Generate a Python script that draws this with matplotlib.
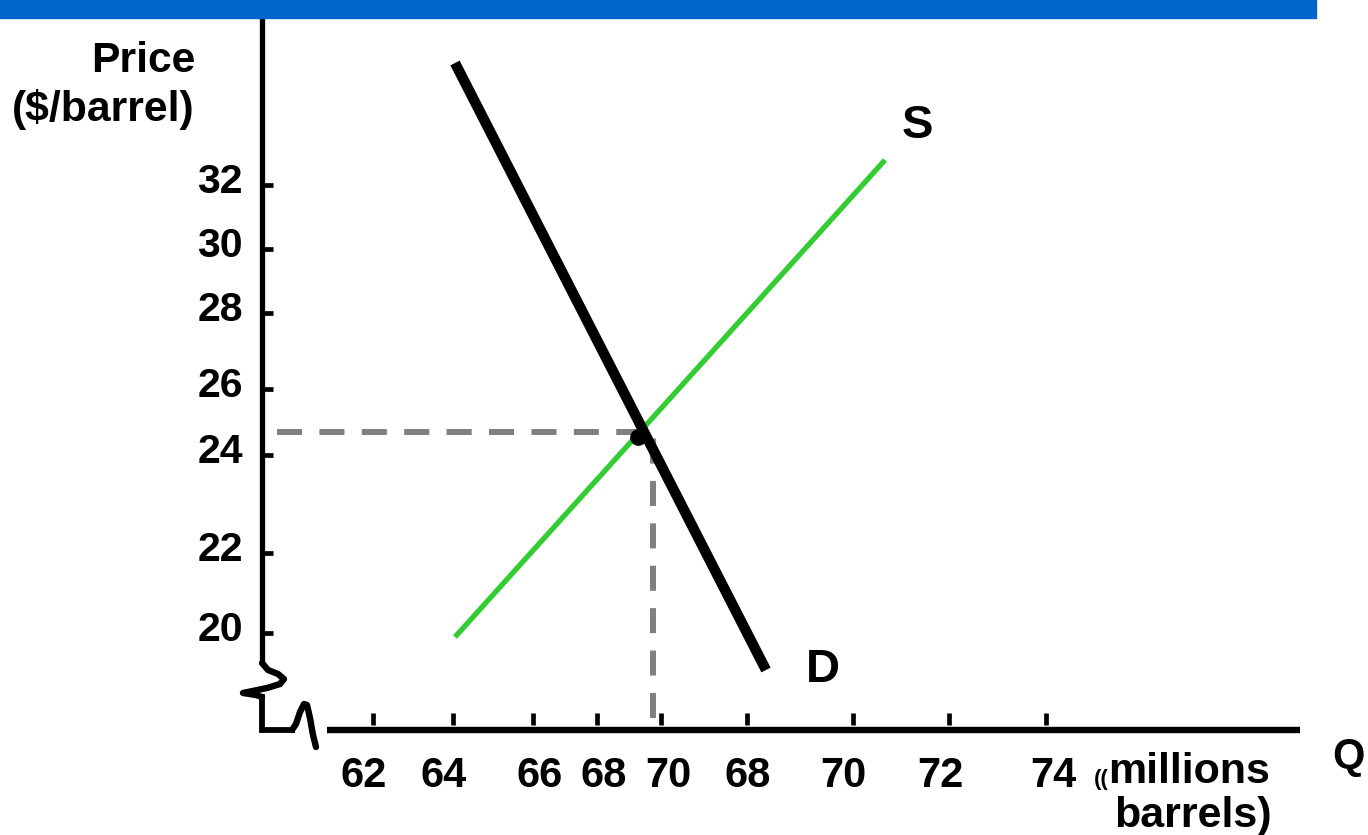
import numpy as np
import matplotlib.pyplot as plt
from matplotlib.patches import Rectangle

plt.rcParams['font.family'] = ['Liberation Sans', 'DejaVu Sans']
plt.rcParams['font.weight'] = 'bold'

# positions along each axis (origin at the corner of the axes) and their labels
price_pos = [545, 481, 417, 341, 275, 177, 97]
price_labels = ['32', '30', '28', '26', '24', '22', '20']
qty_pos = [111, 191, 271, 335, 399, 485, 591, 687, 784]
qty_label_pos = [102, 182, 278, 342, 406, 486, 581, 678, 791]
qty_labels = ['62', '64', '66', '68', '70', '68', '70', '72', '74']

# supply and demand end points
supply_q = [193, 623]
supply_p = [93, 570]
demand_q = [193, 504]
demand_p = [667, 60]

# equilibrium guides
eq_q = 391
eq_p = 298
eq_dot = (376, 293)

BLACK = '#000000'
GREEN = '#33CC33'
GREY = '#808080'
FS = 29.5

fig = plt.figure(figsize=(13.68, 8.35), dpi=100)
ax = fig.add_axes([0, 0, 1, 1])
ax.set_xlim(-262, 1106)
ax.set_ylim(-105, 730)
ax.axis('off')

# header band
fig.patches.append(Rectangle((0, 1 - 18 / 835), 1316 / 1368, 18 / 835,
                             transform=fig.transFigure, color='#0066CC', zorder=0))

# vertical axis with a break near the bottom
ax.plot([0, 0], [720, 67], color=BLACK, lw=3.8, solid_capstyle='butt', zorder=3)
ybreak = [(0, 67), (6, 60), (16, 56), (22, 51), (18, 46), (5, 42), (-19, 37), (-6, 35), (0, 33)]
ax.plot(*zip(*ybreak), color=BLACK, lw=4.6, solid_joinstyle='round', solid_capstyle='round', zorder=3)
ax.plot([0, 0, 30], [33, 0, 0], color=BLACK, lw=4.2, solid_joinstyle='miter', zorder=3)

# horizontal axis with a break near the origin
xbreak = [(30, 0), (34, 6), (38, 18), (42, 26), (45, 25), (48, 12), (51, -5), (54, -17)]
ax.plot(*zip(*xbreak), color=BLACK, lw=4.6, solid_joinstyle='round', solid_capstyle='round', zorder=3)
ax.plot([65, 1038], [0, 0], color=BLACK, lw=4.6, solid_capstyle='butt', zorder=3)

# ticks
for p, lab in zip(price_pos, price_labels):
    ax.plot([0, 11], [p, p], color=BLACK, lw=3.4, solid_capstyle='butt', zorder=3)
    ax.text(-19, p + 3, lab, ha='right', va='center', fontsize=FS, fontweight='bold')
for q in qty_pos:
    ax.plot([q, q], [5, 17], color=BLACK, lw=3.4, solid_capstyle='butt', zorder=3)
for q, lab in zip(qty_label_pos, qty_labels):
    ax.text(q, -57, lab, ha='center', va='baseline', fontsize=30, fontweight='bold')

# equilibrium guides
ax.plot([15, eq_q], [eq_p, eq_p], color=GREY, lw=4.3, dashes=(4.2, 2.9), zorder=2)
ax.plot([eq_q, eq_q], [12, eq_p], color=GREY, lw=4.3, dashes=(4.2, 2.9), zorder=2)

# curves
ax.plot(supply_q, supply_p, color=GREEN, lw=3.8, solid_capstyle='butt', zorder=4)
ax.plot(demand_q, demand_p, color=BLACK, lw=7.5, solid_capstyle='butt', zorder=5)
ax.plot(*eq_dot, marker='o', ms=11, color=BLACK, zorder=6)

# labels
ax.text(-67, 669, 'Price', ha='right', va='center', fontsize=30.7, fontweight='bold')
ax.text(-67, 620, '($/barrel)', ha='right', va='center', fontsize=30.7, fontweight='bold')
ax.text(655, 604, 'S', ha='center', va='center', fontsize=34, fontweight='bold')
ax.text(561, 60, 'D', ha='center', va='center', fontsize=34, fontweight='bold')
ax.text(1086, -27, 'Q', ha='center', va='center', fontsize=30, fontweight='bold')
ax.text(847, -55, '((', ha='right', va='baseline', fontsize=16, fontweight='bold')
ax.text(927, -53, 'millions', ha='center', va='baseline', fontsize=31, fontweight='bold')
ax.text(931, -97, 'barrels)', ha='center', va='baseline', fontsize=31, fontweight='bold')

fig.savefig('out.png', dpi=100, facecolor='white')
